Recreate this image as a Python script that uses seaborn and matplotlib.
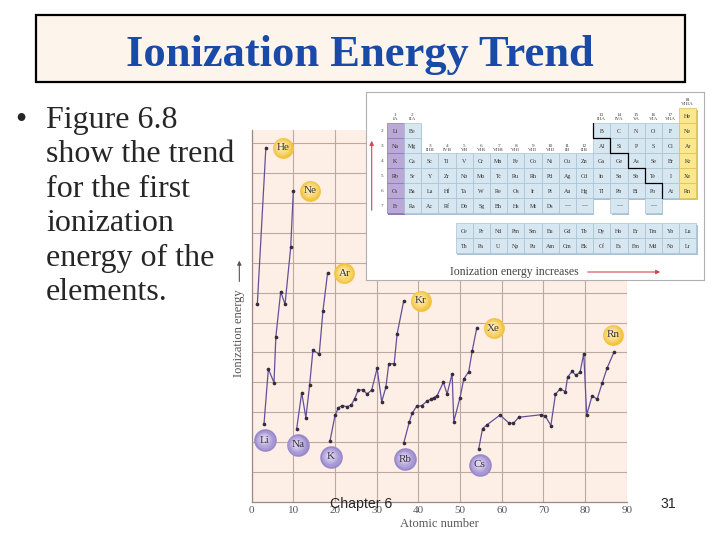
"""
Slide: ionization energy trend (textbook Figure 6.8) with periodic-table inset.
"""

import matplotlib
matplotlib.use("Agg")  # non-interactive backend
import matplotlib.pyplot as plt
import matplotlib.transforms as mtransforms
from matplotlib.patches import Rectangle
from matplotlib.colors import to_rgb
import numpy as np
import pandas as pd
import seaborn as sns

# ── Data ────────────────────────────────────────────────────────────────────
# z = position along the atomic-number axis as drawn, ie = first ionization energy (kJ/mol)
p1_z = [1.35, 3.4]
p1_ie = [1322, 2372]
p2_z = [2.95, 4.0, 5.35, 5.8, 6.96, 8.0, 9.36, 10.0]
p2_ie = [520, 889, 797, 1105, 1407, 1322, 1704, 2084]
p3_z = [10.8, 12.0, 13.0, 13.9, 14.7, 16.2, 17.1, 18.2]
p3_ie = [489, 730, 562, 781, 1016, 987, 1277, 1530]
p4_z = [18.8, 20.0, 20.8, 21.7, 22.9, 23.9, 24.7, 25.6, 26.7, 27.7, 28.8,
        30.1, 31.2, 32.2, 32.9, 34.2, 34.9, 36.5]
p4_ie = [408, 578, 629, 643, 636, 647, 690, 748, 748, 721, 748,
         893, 670, 766, 924, 924, 1123, 1347]
p5_z = [36.5, 37.8, 38.5, 39.6, 40.8, 42.1, 43.0, 43.7, 44.5, 46.0, 46.9,
        48.1, 48.5, 50.0, 50.9, 52.1, 52.9, 54.0]
p5_ie = [393, 531, 592, 639, 643, 674, 686, 697, 710, 800, 721,
         857, 536, 697, 822, 871, 1007, 1161]
p6_z = [54.5, 55.4, 56.4, 59.6, 61.8, 62.8, 64.1, 69.4, 70.5, 71.8, 72.9, 74.0,
        75.3, 75.8, 76.9, 77.8, 78.8, 79.7, 80.4, 81.7, 82.9, 84.1, 85.3, 87.0]
p6_ie = [355, 489, 513, 580, 525, 525, 565, 582, 572, 509, 719, 755,
         737, 833, 873, 846, 867, 991, 580, 710, 686, 793, 895, 1005]

noble_gases = ["He", "Ne", "Ar", "Kr", "Xe", "Rn"]
alkali_metals = ["Li", "Na", "K", "Rb", "Cs"]
x_ticks = [0, 10, 20, 30, 40, 50, 60, 70, 80, 90]

bullet_lines = ["Figure 6.8", "show the trend", "for the first",
                "ionization", "energy of the", "elements."]

# periodic table inset: symbols by period (None = empty slot)
pt_rows = [
    [None] * 17 + ["He"],
    ["Li", "Be"] + [None] * 10 + ["B", "C", "N", "O", "F", "Ne"],
    ["Na", "Mg"] + [None] * 10 + ["Al", "Si", "P", "S", "Cl", "Ar"],
    "K Ca Sc Ti V Cr Mn Fe Co Ni Cu Zn Ga Ge As Se Br Kr".split(),
    "Rb Sr Y Zr Nb Mo Tc Ru Rh Pd Ag Cd In Sn Sb Te I Xe".split(),
    "Cs Ba La Hf Ta W Re Os Ir Pt Au Hg Tl Pb Bi Po At Rn".split(),
    ["Fr", "Ra", "Ac", "Rf", "Db", "Sg", "Bh", "Hs", "Mt", "Ds", "—", "—",
     None, "—", None, "—", None, None],
]
pt_f_rows = [
    "Ce Pr Nd Pm Sm Eu Gd Tb Dy Ho Er Tm Yb Lu".split(),
    "Th Pa U Np Pu Am Cm Bk Cf Es Fm Md No Lr".split(),
]
pt_groups = ["1\nIA", "2\nIIA", "3\nIIIB", "4\nIVB", "5\nVB", "6\nVIB", "7\nVIIB",
             "8\nVIII", "9\nVIII", "10\nVIII", "11\nIB", "12\nIIB", "13\nIIIA",
             "14\nIVA", "15\nVA", "16\nVIA", "17\nVIIA", "18\nVIIIA"]

# ── Styling ─────────────────────────────────────────────────────────────────
sns.set_style("white")
plt.rcParams["font.family"] = ["Liberation Serif", "DejaVu Serif"]

PALETTE = {
    "bg": "#fdeee6",
    "grid": "#bda9a1",
    "spine": "#9a8a85",
    "line": "#64509a",
    "dot": "#352c3c",
    "tick": "#555555",
    "title": "#1a4aa8",
    "red": "#d64550",
}
YELLOW = ("#f3c442", "#fdf0b8")   # edge, centre
PURPLE = ("#9a89cb", "#dcd5f2")

data = pd.DataFrame({
    "z": p1_z + p2_z + p3_z + p4_z + p5_z + p6_z,
    "ie": p1_ie + p2_ie + p3_ie + p4_ie + p5_ie + p6_ie,
    "period": ([1] * len(p1_z) + [2] * len(p2_z) + [3] * len(p3_z)
               + [4] * len(p4_z) + [5] * len(p5_z) + [6] * len(p6_z)),
})

W, H = 720, 540
fig = plt.figure(figsize=(W / 100, H / 100), dpi=100)
fig.patch.set_facecolor("white")

# ── Title box & bullet text ────────────────────────────────────────────────
fig.add_artist(Rectangle((36 / W, 1 - 82 / H), 649 / W, 67 / H, transform=fig.transFigure,
                         facecolor="#fdf4ec", edgecolor="black", linewidth=1.6))
fig.text(0.5, 1 - 66 / H, "Ionization Energy Trend", ha="center", va="baseline",
         fontsize=32, fontweight="bold", color=PALETTE["title"])

fig.text(15 / W, 1 - 128 / H, "•", fontsize=23, va="baseline")
for i, line in enumerate(bullet_lines):
    fig.text(46 / W, 1 - (128 + 34.4 * i) / H, line, fontsize=23, va="baseline")

# ── Main chart ──────────────────────────────────────────────────────────────
ax = fig.add_axes([251.7 / W, 38.4 / H, 375 / W, 371.6 / H])
ax.set_facecolor(PALETTE["bg"])

sns.lineplot(data=data, x="z", y="ie", units="period", estimator=None, sort=False,
             color=PALETTE["line"], linewidth=0.9, ax=ax, zorder=2)
sns.scatterplot(data=data, x="z", y="ie", color=PALETTE["dot"], s=7, linewidth=0,
                ax=ax, zorder=3)


def label_circle(name, x, y, dx, dy, colors, size):
    """Shaded ball with element symbol, offset (points) from a data point."""
    edge, centre = np.array(to_rgb(colors[0])), np.array(to_rgb(colors[1]))
    for k, frac in enumerate(np.linspace(1.0, 0.25, 6)):
        mix = k / 5
        trans = mtransforms.offset_copy(ax.transData, fig=fig, x=dx - 1.2 * mix,
                                        y=dy + 1.2 * mix, units="points")
        ax.scatter([x], [y], s=size * frac ** 2, color=edge * (1 - mix) + centre * mix,
                   linewidth=0, transform=trans, zorder=4 + k * 0.01)
    ax.annotate(name, (x, y), xytext=(dx, dy), textcoords="offset points",
                ha="center", va="center", fontsize=8, color="#3f3540", zorder=5)


periods = [data[data["period"] == p] for p in range(1, 7)]
for name, grp in zip(noble_gases, periods):
    last = grp.iloc[-1]
    dx, dy = (-1, 12.2) if name == "Rn" else (12.2, 0)
    label_circle(name, last["z"], last["ie"], dx, dy, YELLOW, 225)
for name, grp in zip(alkali_metals, periods[1:]):
    first = grp.iloc[0]
    label_circle(name, first["z"], first["ie"], 0.8, -11.7, PURPLE, 265)

ax.set_xlim(0, 90)
ax.set_ylim(0, 2490)
ax.set_xticks(x_ticks)
ax.set_yticks(range(200, 2490, 200))
ax.set_yticklabels([])
ax.tick_params(length=0, labelsize=8, labelcolor=PALETTE["tick"], pad=3)
ax.grid(True, color=PALETTE["grid"], linewidth=0.8)
for side in ("top", "right"):
    ax.spines[side].set_visible(False)
for side in ("left", "bottom"):
    ax.spines[side].set_color(PALETTE["spine"])
    ax.spines[side].set_linewidth(0.9)

ax.set_xlabel("Atomic number", fontsize=9, color=PALETTE["tick"], labelpad=2)
ax.set_ylabel("Ionization energy", fontsize=9, color=PALETTE["tick"])
ax.yaxis.set_label_coords(-0.018, 0.4537)
ax.annotate("", xy=(-0.033, 0.656), xytext=(-0.033, 0.585), xycoords="axes fraction",
            arrowprops=dict(arrowstyle="-|>", color=PALETTE["tick"], lw=0.8,
                            mutation_scale=6))

# ── Periodic table inset ────────────────────────────────────────────────────
ins = fig.add_axes([366 / W, 260 / H, 338 / W, 188 / H])
ins.set_xlim(0, 338)
ins.set_ylim(188, 0)
ins.set_xticks([])
ins.set_yticks([])
ins.set_facecolor("white")
for sp in ins.spines.values():
    sp.set_color("#b0b0b0")
    sp.set_linewidth(0.8)

CW, RH, X0, Y0 = 17.2, 15.0, 20.7, 16.3
CELL = {"purple": ("#b9a8d8", "#8a79b5"), "blue": ("#d7e7f2", "#a9c2d3"),
        "yellow": ("#fbe88e", "#dcc25a")}


def cell(x, y, sym, kind):
    face, shade = CELL[kind]
    ins.add_patch(Rectangle((x + 1.3, y + 1.3), CW, RH, facecolor=shade, edgecolor="none"))
    ins.add_patch(Rectangle((x, y), CW, RH, facecolor=face, edgecolor=shade, linewidth=0.5))
    ins.text(x + CW / 2, y + RH / 2 + 0.5, sym, ha="center", va="center",
             fontsize=4.3, color="#333333")


for r, row in enumerate(pt_rows):
    for g, sym in enumerate(row):
        if sym is None:
            continue
        kind = "purple" if g == 0 else "yellow" if g == 17 else "blue"
        cell(X0 + g * CW, Y0 + r * RH, sym, kind)
for r, row in enumerate(pt_f_rows):
    for k, sym in enumerate(row):
        cell(X0 + 4 * CW + k * CW, 131.3 + r * RH, sym, "blue")

for g, head in enumerate(pt_groups):
    hy = 10 if g == 17 else 56 if 2 <= g <= 11 else 25
    ins.text(X0 + (g + 0.5) * CW, hy, head, ha="center", va="center",
             fontsize=3.8, color="#444444", linespacing=1.0)
for r in range(1, 7):
    ins.text(15.7, Y0 + (r + 0.5) * RH, str(r + 1), ha="center", va="center",
             fontsize=3.8, color="#444444")

# metalloid staircase
sx = [X0 + 12 * CW, X0 + 12 * CW, X0 + 13 * CW, X0 + 13 * CW, X0 + 14 * CW, X0 + 14 * CW,
      X0 + 15 * CW, X0 + 15 * CW, X0 + 16 * CW, X0 + 16 * CW]
sy = [Y0 + RH, Y0 + 2 * RH, Y0 + 2 * RH, Y0 + 3 * RH, Y0 + 3 * RH, Y0 + 4 * RH,
      Y0 + 4 * RH, Y0 + 5 * RH, Y0 + 5 * RH, Y0 + 6 * RH]
ins.plot(sx, sy, color="black", linewidth=0.9)

ins.annotate("", xy=(5.7, 46), xytext=(5.7, 121),
             arrowprops=dict(arrowstyle="-|>", color=PALETTE["red"], lw=0.8, mutation_scale=6))
ins.text(84, 180, "Ionization energy increases", ha="left", va="center",
         fontsize=8.5, color="#444444")
ins.annotate("", xy=(297, 180), xytext=(219, 180),
             arrowprops=dict(arrowstyle="-|>", color=PALETTE["red"], lw=0.8, mutation_scale=6))

# ── Footer ──────────────────────────────────────────────────────────────────
fig.text(330 / W, 1 - 504 / H, "Chapter 6", fontsize=10.2, family="Liberation Sans",
         va="center")
fig.text(668 / W, 1 - 504 / H, "31", fontsize=10.2, family="Liberation Sans",
         ha="center", va="center")

fig.savefig("out.png", dpi=100)
plt.close(fig)
